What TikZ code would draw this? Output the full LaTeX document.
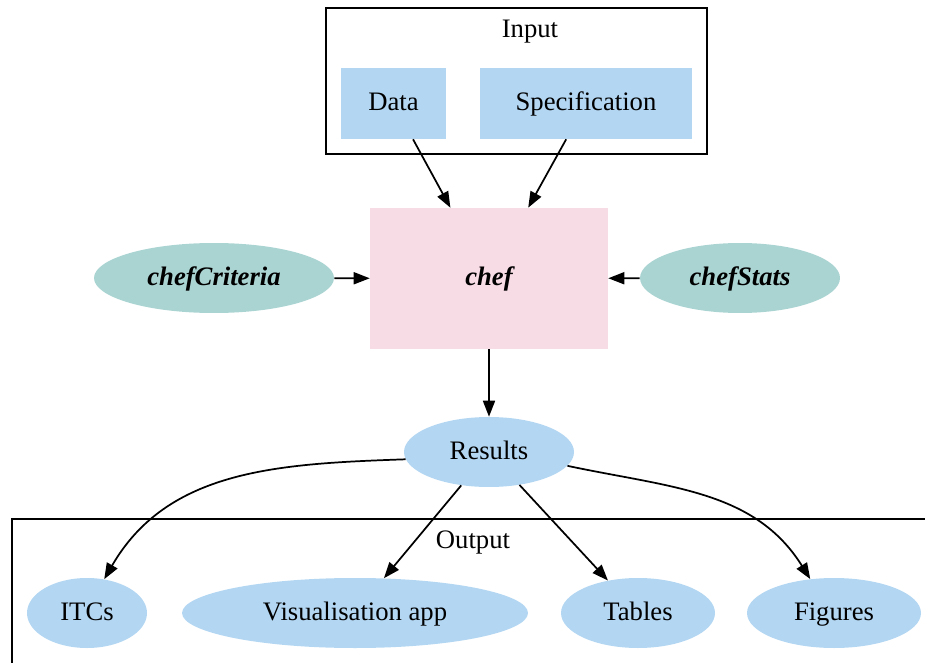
\documentclass[tikz,border=0pt]{standalone}
\usepackage{fontspec}
\setmainfont{Liberation Serif}
\usetikzlibrary{shapes.geometric,arrows.meta}
\definecolor{nodeblue}{RGB}{179,214,242}
\definecolor{chefpink}{RGB}{247,219,229}
\definecolor{helpteal}{RGB}{170,212,210}
\begin{document}
\begin{tikzpicture}[x=0.75pt,y=-0.75pt,
	every node/.style={inner sep=0pt,text height=15pt,text depth=4pt,font=\fontsize{20}{24}\selectfont},
	inbox/.style={rectangle,fill=nodeblue,minimum height=53.25pt,minimum width=#1},
	oval/.style={ellipse,fill=nodeblue,minimum height=52.5pt,minimum width=#1},
	helper/.style={ellipse,fill=helpteal,minimum height=52.5pt,minimum width=#1,font=\fontsize{20}{24}\selectfont\bfseries\itshape},
	cluster/.style={draw,line width=1.2pt},
	arr/.style={-{Triangle[length=12pt,width=9pt]},line width=1.3pt}]
	\useasboundingbox (0,0) rectangle (925,663);
	\clip (0,0) rectangle (925,663);
	\draw [cluster] (326,8) rectangle (707,154);
	\node (inlbl) at (530,30) {Input};
	\node [inbox=78.75pt] (data) at (393.5,103.5) {Data};
	\node [inbox=159pt] (spec) at (586,103.5) {Specification};
	\node [rectangle,fill=chefpink,minimum width=178.5pt,minimum height=105.75pt,font=\fontsize{20}{24}\selectfont\bfseries\itshape] (chef) at (489,278.5) {chef};
	\node [helper=180pt] (crit) at (214,278) {chefCriteria};
	\node [helper=150pt] (stats) at (740,278) {chefStats};
	\node [oval=127.5pt] (res) at (489,452) {Results};
	\draw [cluster] (12,519) rectangle (945,690);
	\node (outlbl) at (473,541) {Output};
	\node [oval=90pt] (itcs) at (87,613) {ITCs};
	\node [oval=259.5pt] (vis) at (355,613) {Visualisation app};
	\node [oval=115.5pt] (tab) at (638,613) {Tables};
	\node [oval=130.5pt] (fig) at (834,613) {Figures};
	\draw [arr] (data) -- (chef);
	\draw [arr] (spec) -- (chef);
	\draw [arr] (crit) -- (chef);
	\draw [arr] (stats) -- (chef);
	\draw [arr] (chef) -- (res);
	\draw [arr] (res.185) to[out=182,in=60] (itcs.63);
	\draw [arr] (res) -- (vis);
	\draw [arr] (res) -- (tab);
	\draw [arr] (res.-10) to[out=-12,in=122] (fig.125);
\end{tikzpicture}
\end{document}
